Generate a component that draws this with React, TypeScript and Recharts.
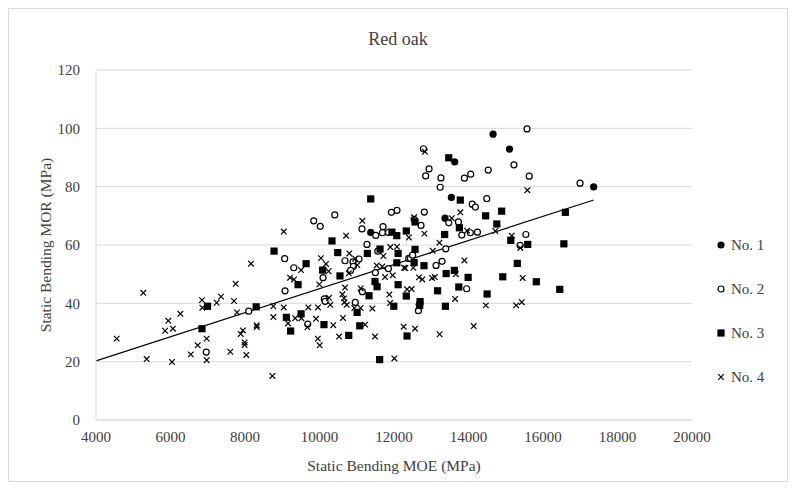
import {
  ReferenceLine,
  Scatter,
  ScatterChart,
  CartesianGrid,
  XAxis,
  YAxis,
} from "recharts";

// [MOE, MOR] pairs
const no1: [number, number][] = [
  [14660, 98], [15100, 92.9], [13630, 88.5], [17360, 79.9], [13540, 76.3],
  [11375, 64.3], [13370, 69.2],
];

const no2: [number, number][] = [
  [15570, 99.8], [12790, 93], [12940, 86.1], [12850, 83.7], [13260, 83],
  [13240, 79.8], [13890, 82.9], [14060, 84.3], [14530, 85.7], [15220, 87.5],
  [15630, 83.6], [16995, 81.2], [12080, 71.9], [11930, 71.2], [10410, 70.3],
  [9845, 68.3], [10020, 66.4], [11140, 65.5], [11510, 63.3], [11705, 66.3],
  [11690, 64.2], [11850, 64.3], [11275, 60.2], [11565, 57.9], [9065, 55.3],
  [10685, 54.6], [10900, 54.2], [11060, 55.2], [10910, 52.7], [9310, 52.2],
  [10835, 51.3], [11500, 50.5], [11850, 51.9], [12395, 55.4], [10095, 48.8],
  [11150, 44], [9075, 44.3], [10130, 41.5], [10150, 40.7], [10960, 40.3],
  [14100, 74], [14185, 73], [14490, 75.9], [12815, 71.3], [12540, 68.8],
  [12725, 66.7], [13470, 67.6], [13730, 67.9], [13820, 63.4], [14050, 64.2],
  [14240, 64.4], [15540, 63.6], [15385, 59.9], [13390, 58.7], [12440, 55.4],
  [12500, 56.5], [13130, 53], [13290, 54.4], [13950, 45], [12655, 37.5],
  [9685, 32.9], [6960, 23.3], [8100, 37.3],
];

const no3: [number, number][] = [
  [13470, 89.9], [11375, 75.8], [13780, 75.4], [11945, 64.4], [12075, 63.2],
  [12330, 64.8], [10335, 61.4], [8780, 57.9], [10490, 57.4], [11285, 57.1],
  [11625, 58.6], [12110, 57.1], [9640, 53.6], [10085, 51.4], [12075, 53.9],
  [10550, 49.4], [9425, 46.4], [11490, 47.5], [11545, 45.7], [12110, 46.4],
  [11330, 42.6], [12330, 42.5], [8300, 38.8], [11995, 39], [6995, 39],
  [6845, 31.3], [9110, 35.2], [9225, 30.5], [9505, 36.4], [10120, 32.7],
  [10785, 29], [11010, 36.9], [11080, 32.3], [12350, 28.8], [11615, 20.7],
  [14460, 70], [14890, 71.6], [12565, 67.9], [13755, 65.9], [14760, 67.2],
  [13360, 63.6], [15135, 61.6], [15590, 60.2], [16560, 60.4], [16600, 71.2],
  [12565, 58.5], [12540, 54], [12805, 52.9], [13620, 51.3], [13400, 50.2],
  [13990, 48.9], [15310, 53.7], [14920, 49.1], [15820, 47.4], [16450, 44.8],
  [13170, 44.3], [13740, 45.6], [14500, 43.2], [12700, 40.6], [12690, 39.3],
  [13380, 39],
];

const no4: [number, number][] = [
  [12830, 92], [15580, 78.8], [11150, 68.3], [9040, 64.6], [10715, 63.2],
  [11900, 59.3], [12080, 59.4], [10800, 57.1], [11715, 56.2], [10040, 55.5],
  [10175, 53.5], [10960, 55.3], [11015, 53.1], [9505, 51.4], [10245, 51],
  [10785, 50.3], [11535, 53], [11685, 52.6], [12270, 52.2], [11760, 49],
  [11965, 49.6], [9210, 48.8], [9315, 48.2], [9995, 46.5], [10685, 45.4],
  [11105, 45.1], [12350, 44.8], [11875, 43], [10255, 41.9], [10615, 43.1],
  [10660, 41.7], [10670, 40.4], [10730, 39.5], [10290, 39.5], [11895, 40.1],
  [8760, 39], [9040, 38.6], [9700, 38.6], [9960, 38.6], [10935, 38.4],
  [11105, 38.4], [11420, 38.2], [8160, 53.6], [5270, 43.6], [7750, 46.7],
  [7355, 42.3], [6845, 41.1], [7240, 40.2], [7705, 40.8], [6855, 38.5],
  [4555, 27.9], [5360, 20.9], [6040, 19.9], [5855, 30.6], [6065, 31.3],
  [5940, 34], [6265, 36.4], [6970, 27.9], [6730, 25.6], [6545, 22.5],
  [6970, 20.5], [7785, 36.9], [7945, 30.7], [7885, 29.5], [7990, 26.6],
  [7990, 25.7], [7605, 23.4], [8035, 22.3], [8315, 32.5], [8315, 31.9],
  [8760, 35.3], [9155, 33.1], [9345, 34.9], [9515, 34.9], [9675, 31.8],
  [9905, 34.7], [10370, 32.5], [10630, 35], [9955, 27.9], [10005, 25.6],
  [10525, 28.6], [11225, 32.7], [11490, 28.6], [12260, 32], [12010, 21.1],
  [8735, 15.1], [13780, 71.2], [13550, 69.2], [12815, 63.9], [12400, 62.6],
  [13960, 64.9], [14720, 64.8], [15160, 63.2], [15390, 59], [13220, 60.8],
  [13040, 58], [12520, 52.2], [12305, 52.1], [13890, 54.7], [13660, 50],
  [12670, 48.9], [12760, 48.2], [13020, 48.7], [13095, 49], [15455, 48.7],
  [12475, 44.9], [13640, 41.5], [12655, 38.8], [14465, 39.3], [15280, 39.3],
  [15430, 40.4], [12565, 31.3], [13225, 29.4], [14140, 32.2], [12540, 69.5],
];

const xTicks = [4000, 6000, 8000, 10000, 12000, 14000, 16000, 18000, 20000];
const yTicks = [0, 20, 40, 60, 80, 100, 120];

const toPts = (arr: [number, number][]) => arr.map(([x, y]) => ({ x, y }));

// linear trendline over all points
const all = [...no1, ...no2, ...no3, ...no4];
const n = all.length;
const mx = all.reduce((s, p) => s + p[0], 0) / n;
const my = all.reduce((s, p) => s + p[1], 0) / n;
const slope =
  all.reduce((s, p) => s + (p[0] - mx) * (p[1] - my), 0) /
  all.reduce((s, p) => s + (p[0] - mx) ** 2, 0);
const intercept = my - slope * mx;
const trendX0 = 4000;
const trendX1 = Math.max(...all.map((p) => p[0]));

const Filled = (p: any) => <circle cx={p.cx} cy={p.cy} r={3.6} fill="#000" />;
const Ring = (p: any) => (
  <circle cx={p.cx} cy={p.cy} r={3} fill="#fff" stroke="#000" strokeWidth={1.2} />
);
const Square = (p: any) => (
  <rect x={p.cx - 3.6} y={p.cy - 3.6} width={7.2} height={7.2} fill="#000" />
);
const Cross = (p: any) => (
  <path
    d={`M${p.cx - 2.8},${p.cy - 2.8}L${p.cx + 2.8},${p.cy + 2.8}M${p.cx + 2.8},${p.cy - 2.8}L${p.cx - 2.8},${p.cy + 2.8}`}
    stroke="#000"
    strokeWidth={1.2}
  />
);

const legendItems = [
  { name: "No. 1", Shape: Filled },
  { name: "No. 2", Shape: Ring },
  { name: "No. 3", Shape: Square },
  { name: "No. 4", Shape: Cross },
];

export default function App() {
  const font = '"Liberation Serif", "Times New Roman", serif';
  return (
    <div
      style={{
        position: "relative",
        width: 780,
        height: 474,
        border: "1px solid #d9d9d9",
        boxSizing: "border-box",
        fontFamily: font,
      }}
    >
      <div
        style={{
          position: "absolute",
          top: 20,
          width: "100%",
          textAlign: "center",
          fontSize: 18,
          color: "#404040",
        }}
      >
        Red oak
      </div>
      <ScatterChart
        width={778}
        height={472}
        margin={{ top: 61, right: 95, bottom: 6, left: 27 }}
        style={{ fontFamily: font }}
      >
        <CartesianGrid vertical={false} stroke="#d9d9d9" />
        <XAxis
          type="number"
          dataKey="x"
          domain={[4000, 20000]}
          ticks={xTicks}
          interval={0}
          height={55}
          axisLine={{ stroke: "#d9d9d9" }}
          tickLine={false}
          tickSize={6}
          tickMargin={5}
          tick={{ fill: "#404040", fontSize: 15 }}
          label={{
            value: "Static Bending MOE (MPa)",
            position: "insideBottom",
            offset: 4,
            style: { fill: "#404040", fontSize: 15.5 },
          }}
        />
        <YAxis
          type="number"
          dataKey="y"
          domain={[0, 120]}
          ticks={yTicks}
          interval={0}
          width={60}
          axisLine={{ stroke: "#d9d9d9" }}
          tickLine={false}
          tickSize={6}
          tickMargin={10}
          tick={{ fill: "#404040", fontSize: 15 }}
          label={{
            value: "Static Bending MOR (MPa)",
            angle: -90,
            position: "insideLeft",
            offset: 9,
            style: { textAnchor: "middle", fill: "#404040", fontSize: 15.5 },
          }}
        />
        <Scatter name="No. 1" data={toPts(no1)} shape={Filled} isAnimationActive={false} />
        <Scatter name="No. 2" data={toPts(no2)} shape={Ring} isAnimationActive={false} />
        <Scatter name="No. 3" data={toPts(no3)} shape={Square} isAnimationActive={false} />
        <Scatter name="No. 4" data={toPts(no4)} shape={Cross} isAnimationActive={false} />
        <ReferenceLine
          segment={[
            { x: trendX0, y: intercept + slope * trendX0 },
            { x: trendX1, y: intercept + slope * trendX1 },
          ]}
          stroke="#000"
          strokeWidth={1.2}
          ifOverflow="extendDomain"
        />
      </ScatterChart>
      <div style={{ position: "absolute", left: 706, top: 214 }}>
        {legendItems.map(({ name, Shape }) => (
          <div key={name} style={{ height: 44, display: "flex", alignItems: "center" }}>
            <svg width={12} height={12} style={{ marginRight: 4 }}>
              <Shape cx={6} cy={6} />
            </svg>
            <span style={{ fontSize: 15, color: "#404040" }}>{name}</span>
          </div>
        ))}
      </div>
    </div>
  );
}
